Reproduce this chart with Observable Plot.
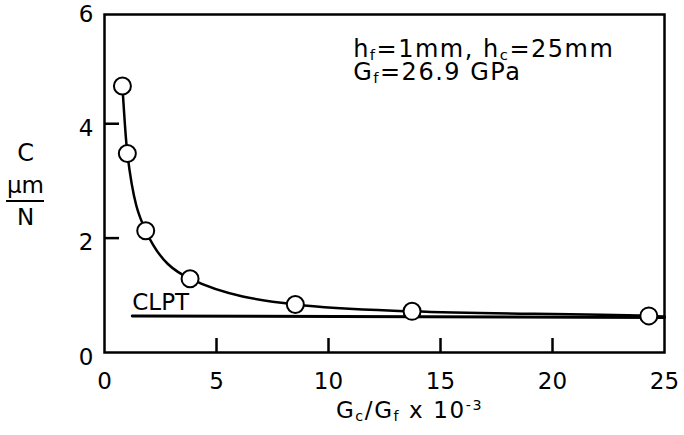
<!DOCTYPE html>
<html>
<head>
<meta charset="utf-8">
<script src="https://cdn.jsdelivr.net/npm/d3@7"></script>
<script src="https://cdn.jsdelivr.net/npm/@observablehq/plot@0.6"></script>
<style>
  html, body { margin: 0; padding: 0; background: #fff; }
  #chart { width: 684px; height: 435px; }
</style>
</head>
<body>
<div id="chart"></div>
<script>
// Measured data (Gc/Gf x 1e-3 vs compliance C in µm/N)
const ratio = [0.8, 1.02, 1.84, 3.82, 8.52, 13.73, 24.3];
const compliance = [4.66, 3.48, 2.13, 1.29, 0.84, 0.72, 0.64];
// Fitted curve drawn through the data, extended to the right frame edge
const fitX = [0.8, 1.02, 1.84, 3.82, 8.52, 13.73, 24.3, 25];
const fitY = [4.66, 3.48, 2.13, 1.29, 0.84, 0.72, 0.64, 0.63];
// CLPT prediction line
const clptX = [1.24, 25];
const clptY = [0.64, 0.61];
// Tick values
const xTickLabels = [0, 5, 10, 15, 20, 25];
const yTickLabels = [0, 2, 4, 6];
const xInnerTicks = [5, 10, 15, 20];
const yInnerTicks = [2, 4];

const pts = ratio.map((x, i) => ({x, y: compliance[i]}));
const fit = fitX.map((x, i) => ({x, y: fitY[i]}));
const clpt = clptX.map((x, i) => ({x, y: clptY[i]}));

const FONT = "DejaVu Sans";

const chart = Plot.plot({
  width: 684,
  height: 435,
  marginLeft: 104,
  marginRight: 20,
  marginTop: 14,
  marginBottom: 83,
  style: {fontFamily: FONT, background: "#fff", color: "#000", overflow: "visible"},
  x: {domain: [0, 25]},
  y: {domain: [0, 5.91]},
  marks: [
    Plot.axisX({ticks: xTickLabels, tickFormat: d => String(d), tickSize: 0, tickPadding: 20, fontSize: 23, label: null}),
    Plot.axisY({ticks: yTickLabels, tickFormat: d => String(d), tickSize: 0, tickPadding: 11, fontSize: 23, dy: 5, label: null}),
    Plot.ruleX(xInnerTicks, {y1: 0, y2: 0.245, stroke: "#000", strokeWidth: 2.5}),
    Plot.ruleY(yInnerTicks, {x1: 0, x2: 0.67, stroke: "#000", strokeWidth: 2.5}),
    Plot.line(clpt, {x: "x", y: "y", stroke: "#000", strokeWidth: 3}),
    Plot.line(fit, {x: "x", y: "y", stroke: "#000", strokeWidth: 2.5, curve: "monotone-x"}),
    Plot.dot(pts, {x: "x", y: "y", r: 8.5, fill: "#fff", stroke: "#000", strokeWidth: 2}),
    Plot.text(["CLPT"], {x: 1.24, y: 0.735, textAnchor: "start", lineAnchor: "bottom", fontSize: 23}),
    Plot.text(["h_{f}=1mm, h_{c}=25mm"], {x: 11.1, y: 5.16, textAnchor: "start", lineAnchor: "bottom", fontSize: 24, className: "spaced"}),
    Plot.text(["G_{f}=26.9 GPa"], {x: 11.1, y: 4.77, textAnchor: "start", lineAnchor: "bottom", fontSize: 24, className: "spaced"}),
    Plot.text(["C"], {frameAnchor: "left", textAnchor: "middle", dx: -79, dy: -30, fontSize: 24}),
    Plot.text(["μm"], {frameAnchor: "left", textAnchor: "middle", dx: -79, dy: 2, fontSize: 23}),
    Plot.text(["N"], {frameAnchor: "left", textAnchor: "middle", dx: -79, dy: 34, fontSize: 23}),
    Plot.text(["G_{c}/G_{f} x 10^{-3}"], {frameAnchor: "bottom", textAnchor: "middle", dx: 25, dy: 65, lineAnchor: "bottom", fontSize: 23, className: "spaced2"}),
    Plot.frame({stroke: "#000", strokeWidth: 2.5})
  ]
});

// Convert _{..} and ^{..} markers into sub/superscript tspans
d3.select(chart).selectAll("text").each(function() {
  const t = this.textContent;
  if (!/[_^]\{/.test(t)) return;
  const sel = d3.select(this);
  sel.text(null);
  const re = /([_^])\{([^}]*)\}|([^_^]+)/g;
  let m;
  while ((m = re.exec(t))) {
    if (m[3]) sel.append("tspan").text(m[3]);
    else sel.append("tspan")
      .attr("baseline-shift", m[1] === "_" ? "-22%" : "55%")
      .attr("font-size", "62%")
      .text(m[2]);
  }
});
d3.select(chart).selectAll(".spaced text").style("letter-spacing", "1.5px");
d3.select(chart).selectAll(".spaced2 text").style("letter-spacing", "1.6px");

// Fraction bar of the y-axis title (µm over N)
d3.select(chart).append("line")
  .attr("x1", 6).attr("x2", 44).attr("y1", 201).attr("y2", 201)
  .attr("stroke", "#000").attr("stroke-width", 2);

document.getElementById("chart").appendChild(chart);
</script>
</body>
</html>
